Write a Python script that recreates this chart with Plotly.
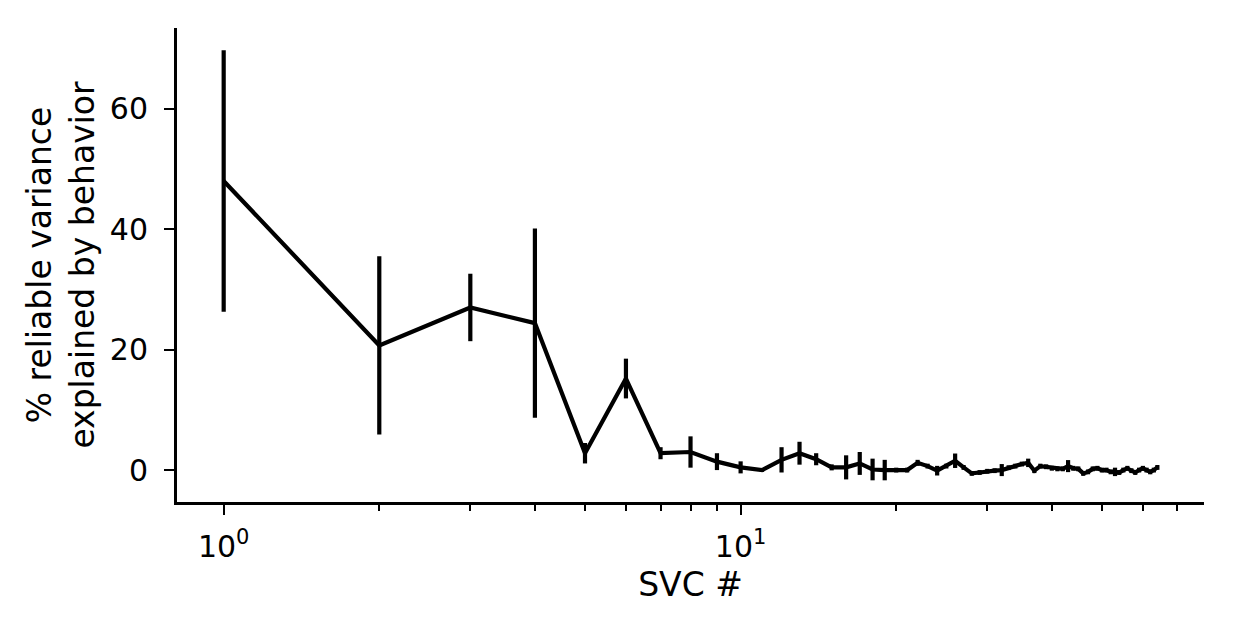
import plotly.graph_objects as go

svc = list(range(1, 65))
mean = [48.0, 20.7, 27.0, 24.4, 2.8, 15.2, 2.8, 3.0, 1.4, 0.45,
        0.0, 1.7, 2.8, 1.8, 0.45, 0.45, 1.1, 0.1, 0.0, 0.0,
        0.0, 1.2, 0.66, -0.1, 0.66, 1.55, 0.44, -0.55, -0.4, -0.2,
        -0.1, 0.0, 0.4, 0.66, 1.0, 1.2, -0.1, 0.66, 0.55, 0.3,
        0.2, 0.2, 0.66, 0.3, 0.2, -0.55, -0.3, 0.2, 0.3, 0.0,
        0.0, -0.3, -0.3, -0.4, 0.0, 0.3, -0.1, -0.4, 0.0, 0.3,
        0.0, -0.3, 0.0, 0.44]
err = [21.7, 14.8, 5.6, 15.7, 1.7, 3.3, 1.0, 2.6, 1.4, 1.0,
       0.3, 2.1, 1.9, 1.0, 0.5, 2.0, 1.9, 1.8, 1.7, 0.4,
       0.4, 0.5, 0.4, 0.8, 0.4, 1.2, 0.4, 0.4, 0.4, 0.4,
       0.4, 1.0, 0.4, 0.4, 0.4, 0.7, 0.4, 0.4, 0.4, 0.4,
       0.4, 0.4, 1.0, 0.4, 0.4, 0.4, 0.4, 0.4, 0.4, 0.4,
       0.4, 0.4, 0.7, 0.4, 0.4, 0.4, 0.4, 0.4, 0.4, 0.4,
       0.4, 0.4, 0.4, 0.4]

major_ticks = [1, 10]
major_text = ["10<sup>0</sup>", "10<sup>1</sup>"]
minor_ticks = [2, 3, 4, 5, 6, 7, 8, 9, 20, 30, 40, 50, 60, 70]
y_ticks = [0, 20, 40, 60]

font = "DejaVu Sans"

fig = go.Figure()
fig.add_trace(go.Scatter(
    x=svc, y=mean, mode="lines",
    line=dict(color="black", width=4.2),
    error_y=dict(type="data", array=err, visible=True, color="black",
                 thickness=4.2, width=0),
    showlegend=False,
))

fig.update_layout(
    width=1234, height=634,
    margin=dict(l=177, r=30, t=28, b=132),
    paper_bgcolor="white", plot_bgcolor="white",
    font=dict(family=font, size=30, color="black"),
    xaxis=dict(
        type="log", range=[-0.0903, 1.8964],
        tickmode="array", tickvals=major_ticks, ticktext=major_text,
        ticks="outside", ticklen=10, tickwidth=2.2, tickcolor="black",
        minor=dict(tickmode="array", tickvals=minor_ticks, ticks="outside",
                   ticklen=6, tickwidth=1.8, tickcolor="black"),
        showline=True, linecolor="black", linewidth=3, mirror=False,
        showgrid=False, zeroline=False,
        tickfont=dict(size=30), ticklabelstandoff=6,
        title=dict(text="SVC #", font=dict(size=33), standoff=10),
    ),
    yaxis=dict(
        range=[-5.3, 73.4],
        tickmode="array", tickvals=y_ticks,
        ticks="outside", ticklen=10, tickwidth=2.2, tickcolor="black",
        showline=True, linecolor="black", linewidth=3, mirror=False,
        showgrid=False, zeroline=False,
        tickfont=dict(size=30), ticklabelstandoff=10,
        title=dict(text="% reliable variance<br>explained by behavior",
                   font=dict(size=33), standoff=6),
    ),
)

fig.write_html("out.html")
